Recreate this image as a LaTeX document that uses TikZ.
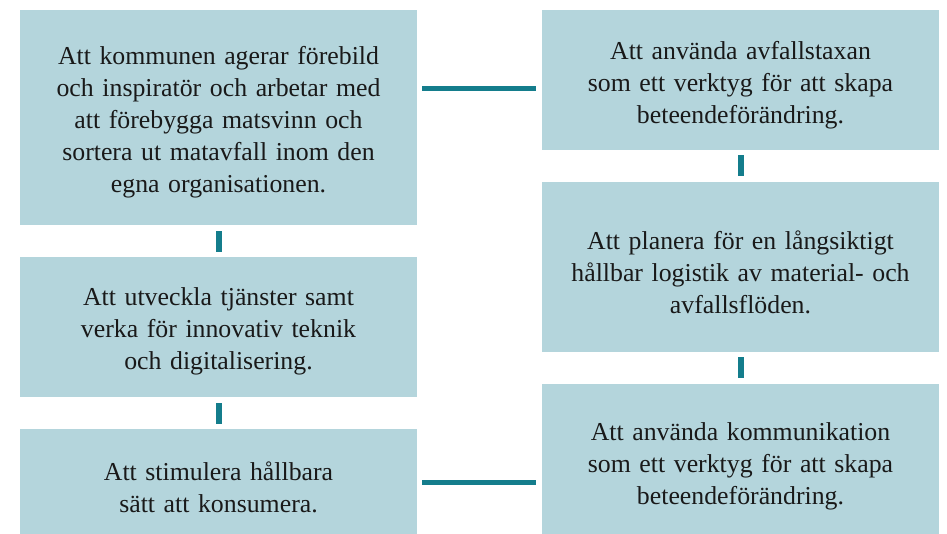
\documentclass[tikz,border=0pt]{standalone}
\usepackage{fontspec}
\setmainfont{Liberation Serif}
\definecolor{boxfill}{RGB}{180,213,220}
\definecolor{linkteal}{RGB}{20,125,140}
\begin{document}
\begin{tikzpicture}[x=1pt,y=-1pt,
  box/.style={fill=boxfill, draw=none, minimum width=397pt, inner sep=0pt},
  txt/.style={text width=395pt, align=center, inner sep=0pt, text=black!90,
    font=\fontsize{25.8}{32}\selectfont},
  hlink/.style={draw=linkteal, line width=5pt},
  vlink/.style={draw=linkteal, line width=6pt}]
\useasboundingbox (0,0) rectangle (947,534);
\node[box, minimum height=215pt] (L1) at (218.5,117.5) {};
\node[box, minimum height=140pt] (L2) at (218.5,327) {};
\node[box, minimum height=105pt] (L3) at (218.5,481.5) {};
\node[box, minimum height=140pt] (R1) at (740.5,80) {};
\node[box, minimum height=170pt] (R2) at (740.5,267) {};
\node[box, minimum height=150pt] (R3) at (740.5,459) {};
\node[txt] (L1t) at ([yshift=-5pt]L1.center) {Att kommunen agerar förebild\\och inspiratör och arbetar med\\att förebygga matsvinn och\\sortera ut matavfall inom den\\egna organisationen.};
\node[txt] (L2t) at ([yshift=-4pt]L2.center) {Att utveckla tjänster samt\\verka för innovativ teknik\\och digitalisering.};
\node[txt] (L3t) at ([yshift=-6pt]L3.center) {Att stimulera hållbara\\sätt att konsumera.};
\node[txt] (R1t) at ([yshift=-5pt]R1.center) {Att använda avfallstaxan\\som ett verktyg för att skapa\\beteendeförändring.};
\node[txt] (R2t) at ([yshift=-5pt]R2.center) {Att planera för en långsiktigt\\hållbar logistik av material- och\\avfallsflöden.};
\node[txt] (R3t) at ([yshift=-7pt]R3.center) {Att använda kommunikation\\som ett verktyg för att skapa\\beteendeförändring.};
\coordinate (h1) at (480,89);
\coordinate (h2) at (480,482);
\draw[vlink, shorten <=6pt, shorten >=5pt] (L1.south) -- (L2.north);
\draw[vlink, shorten <=6pt, shorten >=5pt] (L2.south) -- (L3.north);
\draw[vlink, shorten <=5pt, shorten >=6pt] (R1.south) -- (R2.north);
\draw[vlink, shorten <=5pt, shorten >=6pt] (R2.south) -- (R3.north);
\draw[hlink, shorten <=5pt, shorten >=6pt] (L1.east |- h1) -- (R1.west |- h1);
\draw[hlink, shorten <=5pt, shorten >=6pt] (L3.east |- h2) -- (R3.west |- h2);
\end{tikzpicture}
\end{document}
